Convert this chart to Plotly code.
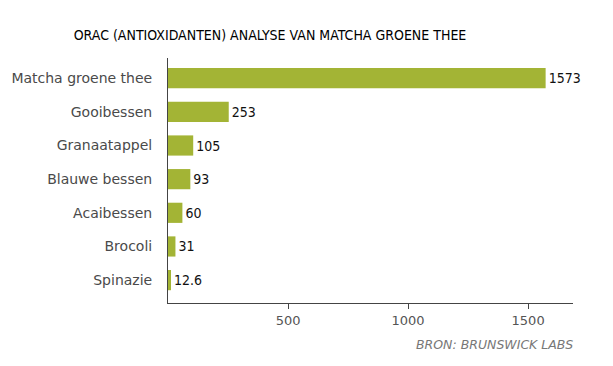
import plotly.graph_objects as go

categories = ["Matcha groene thee", "Gooibessen", "Granaatappel", "Blauwe bessen",
              "Acaibessen", "Brocoli", "Spinazie"]
values = [1573, 253, 105, 93, 60, 31, 12.6]
value_labels = ["1573", "253", "105", "93", "60", "31", "12.6"]
tick_vals = [500, 1000, 1500]
tick_text = ["500", "1000", "1500"]

cats = categories[::-1]
vals = values[::-1]
labs = value_labels[::-1]

fig = go.Figure(go.Bar(
    y=cats, x=vals, orientation="h",
    marker=dict(color="#a3b435", line=dict(width=0)),
    width=0.6,
    text=labs, textposition="outside",
    textfont=dict(family="DejaVu Sans Condensed, DejaVu Sans", size=14, color="#111"),
    cliponaxis=False,
))

fig.update_layout(
    width=613, height=366,
    margin=dict(l=160, r=48, t=50, b=71, autoexpand=False),
    paper_bgcolor="white", plot_bgcolor="white",
    showlegend=False,
    title=dict(text="ORAC (ANTIOXIDANTEN) ANALYSE VAN MATCHA GROENE THEE",
               x=262/613, xanchor="center", y=1 - 27/366, yanchor="middle",
               font=dict(family="DejaVu Sans Condensed, DejaVu Sans", size=14, color="#000")),
    xaxis=dict(range=[0, 1687], tickvals=tick_vals, ticktext=tick_text, automargin=False,
               showgrid=False, zeroline=False, showline=True, linecolor="#444", linewidth=1,
               ticks="outside", ticklen=5, tickcolor="#444",
               tickfont=dict(family="DejaVu Sans", size=13, color="#555")),
    yaxis=dict(range=[-0.68, 6.6], showgrid=False, zeroline=False, showline=True, automargin=False,
               linecolor="#444", linewidth=1, ticks="", ticklabelstandoff=12,
               tickfont=dict(family="DejaVu Sans", size=14, color="#4a4a4a")),
    annotations=[dict(text="<i>BRON: BRUNSWICK LABS</i>", xref="paper", yref="paper",
                      x=1.005, y=-0.171, xanchor="right", yanchor="middle", showarrow=False,
                      font=dict(family="DejaVu Sans", size=12.5, color="#777"))],
)

fig.write_html("out.html")
